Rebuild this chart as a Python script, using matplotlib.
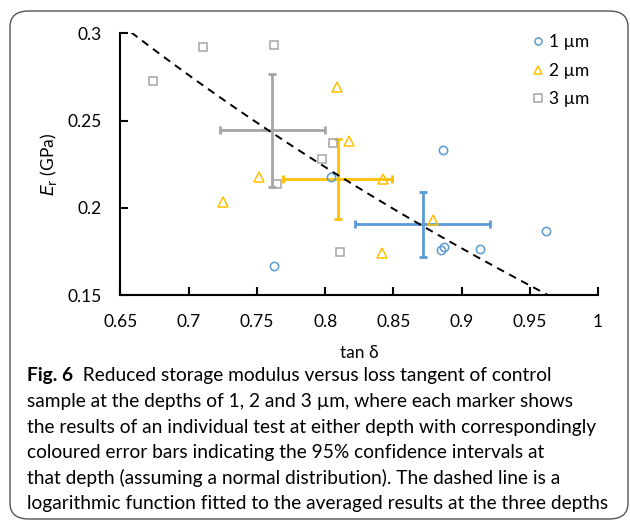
import matplotlib.pyplot as plt
import numpy as np
from matplotlib.patches import FancyBboxPatch

plt.rcParams['font.family'] = ['Lato', 'DejaVu Sans']

# individual tests
x_1um = [0.8043, 0.8867, 0.7628, 0.962, 0.9136, 0.885, 0.8872]
y_1um = [0.2178, 0.2331, 0.1666, 0.1868, 0.1763, 0.1757, 0.1773]
x_2um = [0.8085, 0.8173, 0.8427, 0.7518, 0.7249, 0.842, 0.8793]
y_2um = [0.269, 0.2384, 0.2163, 0.2178, 0.2034, 0.1742, 0.193]
x_3um = [0.674, 0.7107, 0.7625, 0.806, 0.7977, 0.7645, 0.811]
y_3um = [0.2727, 0.2923, 0.2933, 0.2369, 0.2279, 0.2134, 0.1748]

# averaged results with 95% confidence intervals
mean_x = [0.8716, 0.8092, 0.7612]
mean_y = [0.1906, 0.2163, 0.2443]
ci_x = [0.0495, 0.040, 0.0385]
ci_y = [0.0186, 0.023, 0.0325]

labels = ['1 µm', '2 µm', '3 µm']
colors = ['#5B9BD5', '#FFC000', '#A5A5A5']
markers = ['o', '^', 's']

fig = plt.figure(figsize=(6.3, 5.29), dpi=100)
ax = fig.add_axes([120.5 / 630, 1 - 295 / 529, (598 - 120.5) / 630, (295 - 33.3) / 529])

for xs, ys, lab, c, m in zip([x_1um, x_2um, x_3um], [y_1um, y_2um, y_3um], labels, colors, markers):
    ax.plot(xs, ys, linestyle='none', marker=m, markersize=6.5 if m == '^' else 6,
            markerfacecolor='none', markeredgecolor=c, markeredgewidth=1.1, label=lab, zorder=3)

for i in range(3):
    ax.errorbar(mean_x[i], mean_y[i], xerr=ci_x[i], yerr=ci_y[i], fmt='none',
                ecolor=colors[i], elinewidth=2, capsize=3, capthick=2, zorder=2)

# logarithmic fit to the averaged points
b, a = np.polyfit(np.log(mean_x), mean_y, 1)
xf = np.linspace(0.65, 1.0, 200)
ax.plot(xf, a + b * np.log(xf), color='black', linestyle=(0, (4, 3)), linewidth=1.4, zorder=4)

ax.set_xlim(0.65, 1.0)
ax.set_ylim(0.15, 0.3)
ax.set_xticks([0.65, 0.7, 0.75, 0.8, 0.85, 0.9, 0.95, 1.0])
ax.set_xticklabels(['0.65', '0.7', '0.75', '0.8', '0.85', '0.9', '0.95', '1'])
ax.set_yticks([0.15, 0.2, 0.25, 0.3])
ax.set_yticklabels(['0.15', '0.2', '0.25', '0.3'])
for s in ['top', 'right']:
    ax.spines[s].set_visible(False)
for s in ['left', 'bottom']:
    ax.spines[s].set_linewidth(1.5)
ax.tick_params(direction='in', length=6, width=1.5, labelsize=12.5, pad=13.5)
ax.set_xlabel('tan δ', fontsize=12.5, labelpad=11)
ax.set_ylabel(r'$E_{\mathrm{r}}$ (GPa)', fontsize=12.5, labelpad=6)

ax.legend(loc='upper right', frameon=False, fontsize=12.5, handletextpad=0.15,
          borderaxespad=0.1, labelspacing=0.72, handlelength=1.0, markerscale=0.85,
          bbox_to_anchor=(1.0, 1.03))

# rounded frame around figure
fig.patches.append(FancyBboxPatch((10 / 630, 10 / 529), 618 / 630, 508 / 529,
                                  boxstyle='round,pad=0,rounding_size=0.03',
                                  transform=fig.transFigure, fill=False,
                                  edgecolor='#555555', linewidth=1.0))

caption = ['Reduced storage modulus versus loss tangent of control',
           'sample at the depths of 1, 2 and 3 µm, where each marker shows',
           'the results of an individual test at either depth with correspondingly',
           'coloured error bars indicating the 95% confidence intervals at',
           'that depth (assuming a normal distribution). The dashed line is a',
           'logarithmic function fitted to the averaged results at the three depths']
cap_size = 13.8
y0 = 376
t1 = fig.text(27 / 630, 1 - y0 / 529, 'Fig. 6', fontsize=cap_size, fontweight='bold', va='center')
ax.annotate('  ' + caption[0], xy=(1, 0.5), xycoords=t1, va='center', fontsize=cap_size,
            annotation_clip=False)
for k, line in enumerate(caption[1:], start=1):
    fig.text(27 / 630, 1 - (y0 + k * 25.6) / 529, line, fontsize=cap_size, va='center')

fig.savefig('out.png', dpi=100)
